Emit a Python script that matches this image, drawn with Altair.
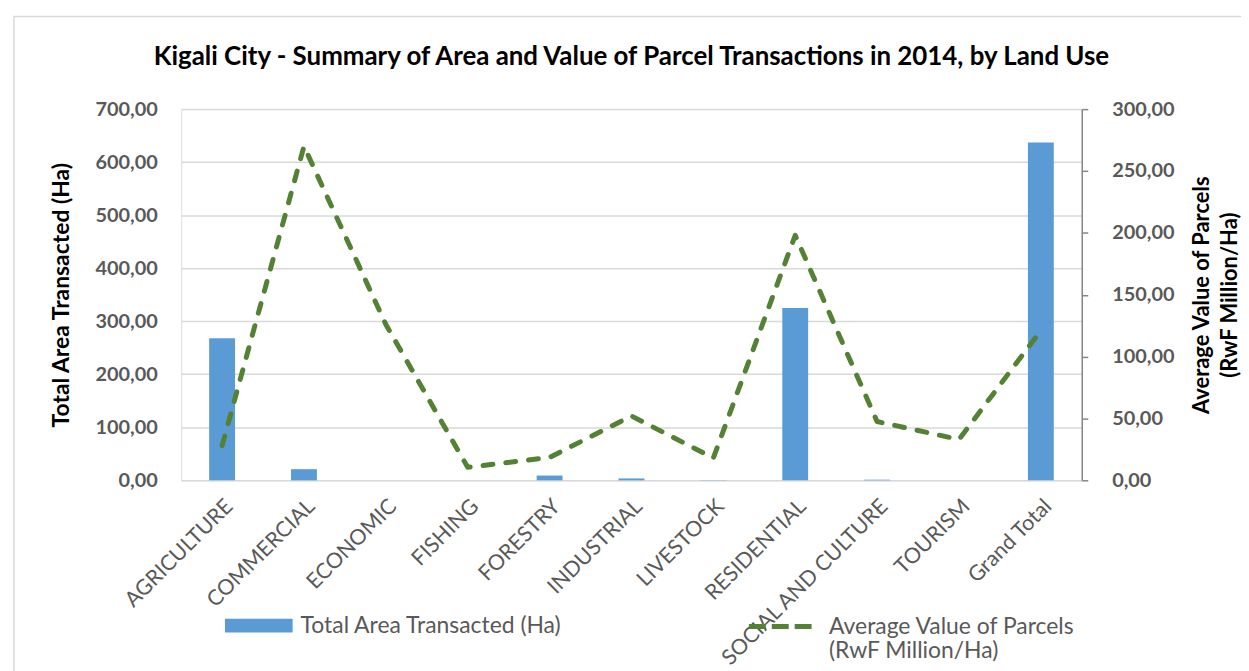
import altair as alt
import pandas as pd

categories = ["AGRICULTURE", "COMMERCIAL", "ECONOMIC", "FISHING", "FORESTRY",
              "INDUSTRIAL", "LIVESTOCK", "RESIDENTIAL", "SOCIAL AND CULTURE",
              "TOURISM", "Grand Total"]
area_ha = [268.0, 21.0, 0.0, 0.0, 9.0, 3.5, 0.4, 325.0, 1.2, 0.0, 637.0]
avg_value = [28.0, 270.0, 126.0, 10.5, 18.5, 52.0, 18.0, 198.0, 47.5, 33.0, 121.0]

bar_name = "Total Area Transacted (Ha)"
line_name = "Average Value of Parcels (RwF Million/Ha)"
left_ticks = [0, 100, 200, 300, 400, 500, 600, 700]
right_ticks = [0, 50, 100, 150, 200, 250, 300]

df = pd.DataFrame({
    "cat": categories,
    "area": area_ha,
    "value": avg_value,
    "bar_series": [bar_name] * len(categories),
    "line_series": [line_name] * len(categories),
})

FONT = "Lato"
GRAY = "#595959"
fmt = "replace(format(datum.value, '.2f'), '.', ',')"

x_enc = alt.X(
    "cat:N", sort=categories, title=None,
    axis=alt.Axis(labelAngle=315, labelAlign="right", labelBaseline="top",
                  labelFontSize=21.5, labelColor=GRAY, labelFont=FONT,
                  labelPadding=15, domain=False, ticks=False, labelLimit=400),
)

bars = alt.Chart(df).mark_bar(size=26).encode(
    x=x_enc,
    y=alt.Y("area:Q", scale=alt.Scale(domain=[0, 700]),
            axis=alt.Axis(title="Total Area Transacted (Ha)", values=left_ticks,
                          labelExpr=fmt, grid=True, gridColor="#D9D9D9",
                          gridWidth=1.5, domain=False, ticks=False,
                          labelFontSize=20, labelFontWeight="bold",
                          labelColor=GRAY, labelFont=FONT, labelPadding=24,
                          titleFontSize=23, titleFontWeight="bold",
                          titleColor="#000000", titleFont=FONT,
                          titlePadding=22, titleAngle=270)),
    color=alt.Color("bar_series:N",
                    scale=alt.Scale(domain=[bar_name], range=["#5B9BD5"]),
                    legend=alt.Legend(orient="none", legendX=44, legendY=485,
                                      title=None, labelFontSize=23,
                                      labelColor=GRAY, labelFont=FONT,
                                      labelLimit=500,
                                      symbolType="M-1,-0.206H1V0.206H-1Z",
                                      symbolSize=4624, symbolStrokeWidth=0,
                                      labelOffset=8)),
)

line = alt.Chart(df).mark_line(strokeWidth=5, strokeDash=[10, 13],
                               strokeCap="round", strokeJoin="round").encode(
    x=x_enc,
    y=alt.Y("value:Q", scale=alt.Scale(domain=[0, 300]),
            axis=alt.Axis(orient="right",
                          title=["Average Value of Parcels", "(RwF Million/Ha)"],
                          values=right_ticks, labelExpr=fmt, grid=False,
                          domain=True, domainColor="#868686", domainWidth=1.5,
                          ticks=True, tickColor="#868686", tickSize=6,
                          tickWidth=1.5,
                          labelFontSize=20, labelFontWeight="bold",
                          labelColor=GRAY, labelFont=FONT, labelPadding=24,
                          titleFontSize=22, titleFontWeight="bold",
                          titleColor="#000000", titleFont=FONT,
                          titlePadding=12, titleAngle=270,
                          titleLineHeight=28)),
    stroke=alt.Stroke("line_series:N",
                      scale=alt.Scale(domain=[line_name], range=["#548235"]),
                      legend=alt.Legend(orient="none", legendX=568, legendY=485,
                                        title=None, labelFontSize=23,
                                        labelColor=GRAY, labelFont=FONT,
                                        labelLimit=500,
                                        labelExpr="['Average Value of Parcels', '(RwF Million/Ha)']",
                                        symbolType="stroke", symbolSize=4225,
                                        symbolStrokeWidth=5,
                                        symbolDash=[17, 6], labelOffset=13)),
)

border = alt.Chart(pd.DataFrame({"k": [0]})).mark_rect(
    fill="transparent", stroke="#D9D9D9", strokeWidth=1.5).encode(
    x=alt.value(-168), x2=alt.value(1300), y=alt.value(-93), y2=alt.value(800)
)

chart = alt.layer(border, bars, line).resolve_scale(
    y="independent", color="independent", stroke="independent"
).properties(
    width=905, height=373,
    title=alt.Title("Kigali City - Summary of Area and Value of Parcel Transactions in 2014, by Land Use",
                    fontSize=26, font=FONT, fontWeight="bold", color="#000000",
                    anchor="middle", offset=-54),
    autosize=alt.AutoSizeParams(type="none"),
    padding={"left": 174, "top": 100, "right": 160, "bottom": 190},
).configure_view(strokeWidth=0).configure(background="white")

chart.save("out.html", embed_options={"renderer": "svg", "actions": False})
